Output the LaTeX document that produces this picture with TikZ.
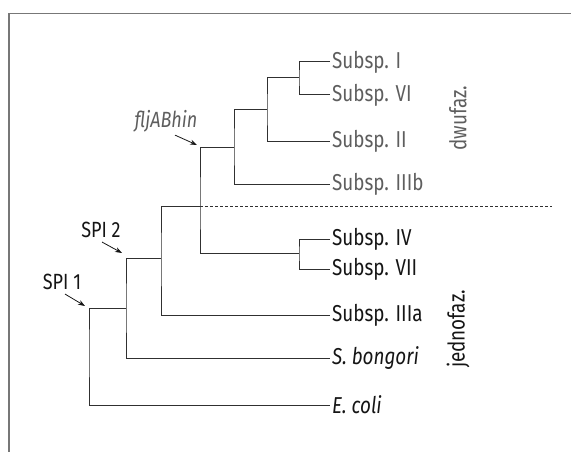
\documentclass[tikz,border=0pt]{standalone}
\usepackage{fontspec}
\setmainfont{Fira Sans}[FakeStretch=0.82]
\usetikzlibrary{arrows.meta}
\definecolor{upc}{HTML}{5E5E5E}
\definecolor{loc}{HTML}{151515}
\definecolor{linec}{HTML}{303030}
\definecolor{framec}{HTML}{777777}
\tikzset{
  branch/.style={draw=linec, line width=1pt},
  leafup/.style={anchor=west, inner sep=2pt, text=upc, font=\fontsize{23}{25}\selectfont},
  leaflo/.style={anchor=west, inner sep=2pt, text=loc, font=\fontsize{23}{25}\selectfont},
  tag/.style={inner sep=0pt, font=\fontsize{22}{24}\selectfont},
  pointer/.style={draw=loc, line width=0.8pt, -{Stealth[length=7pt,width=5pt]}},
  side/.style={rotate=90, inner sep=0pt, font=\fontsize{23}{25}\selectfont},
}
\begin{document}
\begin{tikzpicture}[x=1pt,y=-1pt]
\useasboundingbox (0,0) rectangle (571,452);
% frame
\draw[framec, line width=1.2pt] (9,452) -- (9,13.5) -- (571,13.5);
% leaves
\node[leafup] (sI)    at (330,62)  {Subsp. I};
\node[leafup] (sVI)   at (330,95)  {Subsp. VI};
\node[leafup] (sII)   at (330,141) {Subsp. II};
\node[leafup] (sIIIb) at (330,184) {Subsp. IIIb};
\node[leaflo] (sIV)   at (330,239) {Subsp. IV};
\node[leaflo] (sVII)  at (330,269) {Subsp. VII};
\node[leaflo] (sIIIa) at (330,315) {Subsp. IIIa};
\node[leaflo] (sbon)  at (330,358) {\itshape S. bongori};
\node[leaflo] (ecol)  at (330,405) {\itshape E. coli};
% internal junctions
\coordinate (nA) at (299,78);
\coordinate (nB) at (267,110);
\coordinate (nC) at (234,147);
\coordinate (nF) at (299,253);
\coordinate (nD) at (200,206);
\coordinate (nE) at (161,258);
\coordinate (nG) at (126,308);
\coordinate (nH) at (89,350);
\coordinate (dashend) at (552,206);
% branches
\draw[branch] (sI.west) -| (nA) |- (sVI.west);
\draw[branch] (nA) -| (nB) |- (sII.west);
\draw[branch] (nB) -| (nC) |- (sIIIb.west);
\draw[branch] (sIV.west) -| (nF) |- (sVII.west);
\draw[branch] (nC) -| (nD) |- (nF);
\draw[branch] (nD) -| (nE) |- (sIIIa.west);
\draw[branch] (nE) -| (nG) |- (sbon.west);
\draw[branch] (nG) -| (nH) |- (ecol.west);
\draw[branch, dash pattern=on 3pt off 2pt] (nD) -- (dashend);
% annotations
\node[tag, text=upc] (flj) at (166,121) {\itshape fljABhin};
\node[tag, text=loc] (spi2) at (101,230) {SPI 2};
\node[tag, text=loc] (spi1) at (62,282) {SPI 1};
\coordinate (fljtip) at (197,145);
\coordinate (spi2tip) at (122,253);
\coordinate (spi1tip) at (85,306);
\draw[pointer] (flj.south) ++(9,3) -- (fljtip);
\draw[pointer] (spi2.south) ++(1,4) -- (spi2tip);
\draw[pointer] (spi1.south) ++(3,4) -- (spi1tip);
% side labels
\node[side, text=upc] (dwu) at (458,118) {dwufaz.};
\node[side, text=loc] (jed) at (458,329) {jednofaz.};
\end{tikzpicture}
\end{document}
